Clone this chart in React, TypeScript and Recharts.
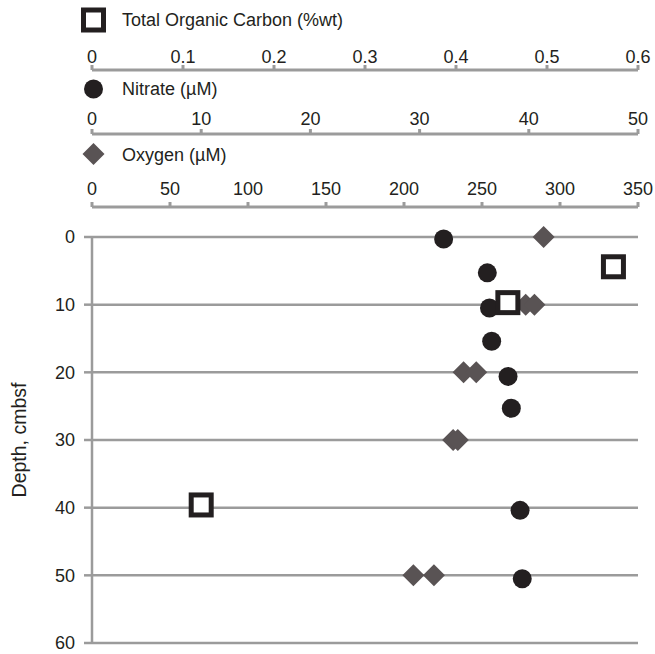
import React from "react";
import {
  CartesianGrid,
  ReferenceArea,
  Scatter,
  ScatterChart,
  XAxis,
  YAxis,
} from "recharts";

const nitrateDepth = [0.3, 5.3, 10.5, 15.4, 20.6, 25.3, 40.4, 50.5];
const nitrateValue = [32.2, 36.2, 36.4, 36.6, 38.1, 38.4, 39.2, 39.4];

const oxygenDepth = [0, 10, 10, 20, 20, 30, 30, 50, 50];
const oxygenValue = [289.5, 278, 283.6, 238.2, 246.3, 231.5, 234.5, 206, 219.2];

const tocDepth = [4.4, 9.7, 39.6];
const tocValue = [0.573, 0.457, 0.12];

const depthTicks = [0, 10, 20, 30, 40, 50, 60];
const tocTicks = [0, 0.1, 0.2, 0.3, 0.4, 0.5, 0.6];
const nitrateTicks = [0, 10, 20, 30, 40, 50];
const oxygenTicks = [0, 50, 100, 150, 200, 250, 300, 350];

const nitrateData = nitrateDepth.map((d, i) => ({ depth: d, value: nitrateValue[i] }));
const oxygenData = oxygenDepth.map((d, i) => ({ depth: d, value: oxygenValue[i] }));
const tocData = tocDepth.map((d, i) => ({ depth: d, value: tocValue[i] }));

const FONT = "'Liberation Sans', Arial, Helvetica, sans-serif";
const INK = "#231f20";
const GREY = "#9b9b9b";
const DIAMOND = "#595354";

const tickStyle = { fontSize: 18, fill: INK, fontFamily: FONT };

function Marker({ kind, x, y }: { kind: string; x: number; y: number }) {
  if (kind === "square") {
    return <rect x={x - 10} y={y - 10} width={20} height={20} fill="#fff" stroke={INK} strokeWidth={5} />;
  }
  if (kind === "circle") {
    return <circle cx={x} cy={y} r={9.5} fill={INK} />;
  }
  return (
    <polygon
      points={`${x},${y - 11} ${x + 11},${y} ${x},${y + 11} ${x - 11},${y}`}
      fill={DIAMOND}
    />
  );
}

// legend row drawn as the axis label, above the tick labels
function AxisLegend(props: any) {
  const { viewBox, text, kind, markerUp, textUp } = props;
  const line = viewBox.y + viewBox.height;
  return (
    <g>
      <Marker kind={kind} x={viewBox.x + 1.5} y={line - markerUp} />
      <text x={viewBox.x + 30} y={line - textUp} fontSize={18} fill={INK} fontFamily={FONT}>
        {text}
      </text>
    </g>
  );
}

function DepthLabel(props: any) {
  const { viewBox } = props;
  const cy = viewBox.y + viewBox.height / 2;
  return (
    <text
      x={26}
      y={cy}
      transform={`rotate(-90 26 ${cy})`}
      textAnchor="middle"
      fontSize={19.5}
      fill={INK}
      fontFamily={FONT}
    >
      Depth, cmbsf
    </text>
  );
}

// top axes stack by id order: a (closest to plot) ... d (outermost)
export default function App() {
  return (
    <div style={{ position: "absolute", left: 0, top: 0, background: "#fff" }}>
      <ScatterChart width={655} height={654} margin={{ top: 0, right: 17, bottom: 11, left: 0 }}>
        <XAxis xAxisId="a-spacer" orientation="top" type="number" domain={[0, 1]} height={30} tick={false} tickLine={false} axisLine={false} />
        <XAxis
          xAxisId="b-oxygen"
          orientation="top"
          type="number"
          dataKey="value"
          domain={[0, 350]}
          ticks={oxygenTicks}
          interval={0}
          height={73}
          tickSize={5}
          tickMargin={7.5}
          tick={tickStyle}
          stroke={GREY}
          strokeWidth={3}
          label={<AxisLegend text="Oxygen (µM)" kind="diamond" markerUp={53} textUp={46} />}
        />
        <XAxis
          xAxisId="c-nitrate"
          orientation="top"
          type="number"
          dataKey="value"
          domain={[0, 50]}
          ticks={nitrateTicks}
          interval={0}
          height={64}
          tickSize={5}
          tickMargin={4.5}
          tick={tickStyle}
          stroke={GREY}
          strokeWidth={3}
          label={<AxisLegend text="Nitrate (µM)" kind="circle" markerUp={45} textUp={39} />}
        />
        <XAxis
          xAxisId="d-toc"
          orientation="top"
          type="number"
          dataKey="value"
          domain={[0, 0.6]}
          ticks={tocTicks}
          interval={0}
          height={70}
          tickSize={5}
          tickMargin={2.5}
          tick={tickStyle}
          stroke={GREY}
          strokeWidth={3}
          label={<AxisLegend text="Total Organic Carbon (%wt)" kind="square" markerUp={50} textUp={44} />}
        />
        <YAxis
          type="number"
          dataKey="depth"
          domain={[0, 60]}
          ticks={depthTicks}
          interval={0}
          reversed
          width={92}
          tickSize={8}
          tickMargin={9}
          tick={tickStyle}
          stroke={GREY}
          strokeWidth={2.5}
          label={<DepthLabel />}
        />
        <ReferenceArea xAxisId="a-spacer" y1={0} y2={5} fill="#b3dff4" fillOpacity={1} stroke="none" />
        <CartesianGrid xAxisId="a-spacer" vertical={false} stroke={GREY} strokeWidth={2.5} />
        <Scatter
          xAxisId="c-nitrate"
          data={nitrateData}
          isAnimationActive={false}
          shape={(p: any) => <Marker kind="circle" x={p.cx} y={p.cy} />}
        />
        <Scatter
          xAxisId="b-oxygen"
          data={oxygenData}
          isAnimationActive={false}
          shape={(p: any) => <Marker kind="diamond" x={p.cx} y={p.cy} />}
        />
        <Scatter
          xAxisId="d-toc"
          data={tocData}
          isAnimationActive={false}
          shape={(p: any) => <Marker kind="square" x={p.cx} y={p.cy} />}
        />
      </ScatterChart>
    </div>
  );
}
